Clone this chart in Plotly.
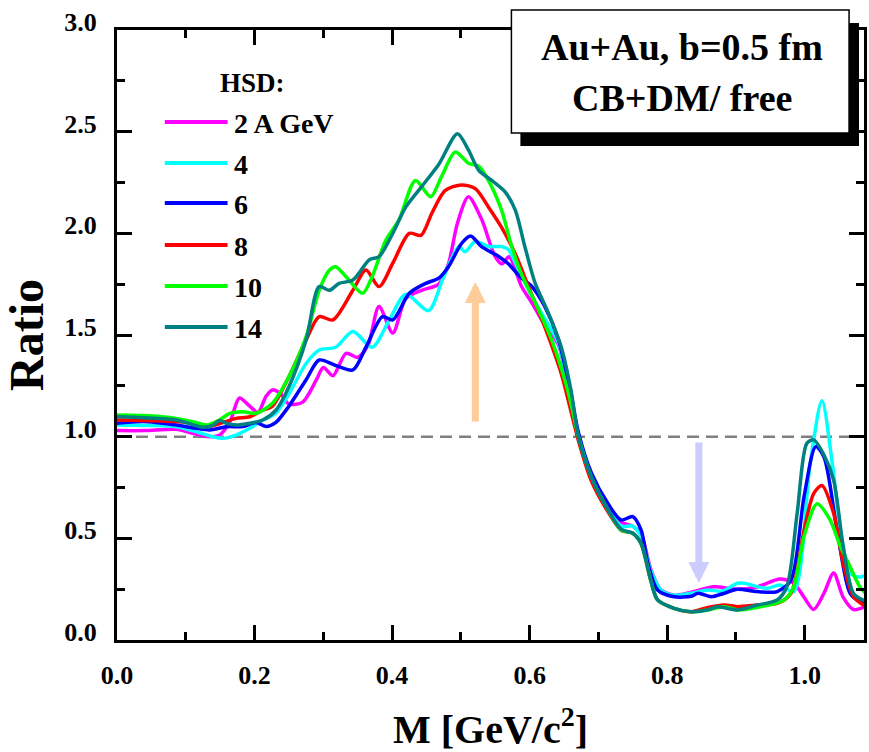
import plotly.graph_objects as go

# ---------------- data ----------------
series_names = ["2 A GeV", "4", "6", "8", "10", "14"]
series_colors = ["#FF00FF", "#00FFFF", "#0000FF", "#FF0000", "#00FF00", "#008080"]

m_2 = [0.000,0.040,0.086,0.110,0.135,0.150,0.165,0.178,0.193,0.205,0.217,0.226,0.238,0.250,0.270,0.290,0.300,0.314,0.333,0.350,0.365,0.381,0.401,0.420,0.443,0.468,0.482,0.495,0.511,0.530,0.550,0.560,0.570,0.588,0.603,0.620,0.642,0.656,0.671,0.690,0.714,0.733,0.750,0.762,0.776,0.790,0.810,0.835,0.868,0.900,0.930,0.964,0.984,0.999,1.013,1.028,1.042,1.056,1.071,1.089]
r_2 = [1.03,1.03,1.036,1.017,1.00,1.01,1.08,1.19,1.15,1.12,1.20,1.23,1.21,1.16,1.17,1.28,1.34,1.30,1.41,1.39,1.45,1.64,1.51,1.68,1.72,1.75,1.85,2.05,2.18,2.07,1.885,1.85,1.885,1.74,1.66,1.56,1.45,1.23,1.00,0.80,0.66,0.58,0.56,0.52,0.35,0.25,0.22,0.235,0.262,0.25,0.26,0.30,0.28,0.21,0.15,0.23,0.33,0.21,0.15,0.165]

m_4 = [0.000,0.040,0.086,0.115,0.135,0.154,0.173,0.193,0.212,0.231,0.250,0.275,0.294,0.318,0.343,0.371,0.396,0.420,0.453,0.475,0.497,0.506,0.521,0.540,0.559,0.569,0.584,0.600,0.622,0.642,0.656,0.671,0.690,0.714,0.733,0.750,0.762,0.776,0.791,0.810,0.835,0.859,0.880,0.902,0.912,0.945,0.964,0.984,1.008,1.025,1.040,1.052,1.066,1.080,1.089]
r_4 = [1.057,1.055,1.049,1.025,1.003,0.992,1.008,1.041,1.082,1.115,1.21,1.36,1.426,1.44,1.517,1.44,1.574,1.70,1.62,1.787,1.935,1.91,1.96,1.935,1.935,1.92,1.82,1.71,1.58,1.46,1.24,1.00,0.80,0.65,0.56,0.56,0.51,0.344,0.246,0.22,0.23,0.246,0.24,0.279,0.279,0.254,0.27,0.238,0.87,1.177,0.87,0.54,0.328,0.31,0.32]

m_6 = [0.000,0.038,0.086,0.115,0.135,0.159,0.183,0.202,0.217,0.231,0.250,0.275,0.294,0.318,0.343,0.362,0.386,0.401,0.425,0.449,0.468,0.482,0.501,0.514,0.530,0.555,0.569,0.588,0.603,0.622,0.642,0.660,0.671,0.690,0.714,0.733,0.750,0.762,0.772,0.786,0.810,0.835,0.845,0.864,0.883,0.902,0.931,0.960,0.980,0.999,1.016,1.028,1.047,1.066,1.080,1.089]
r_6 = [1.066,1.074,1.057,1.041,1.033,1.049,1.05,1.07,1.05,1.07,1.15,1.28,1.377,1.35,1.328,1.44,1.59,1.574,1.705,1.754,1.78,1.836,1.95,1.987,1.935,1.886,1.85,1.78,1.74,1.64,1.476,1.21,1.02,0.82,0.67,0.59,0.607,0.541,0.377,0.246,0.213,0.215,0.23,0.213,0.23,0.25,0.238,0.238,0.295,0.705,0.951,0.90,0.54,0.229,0.189,0.18]

m_8 = [0.000,0.038,0.086,0.115,0.135,0.154,0.173,0.193,0.212,0.226,0.250,0.275,0.294,0.314,0.343,0.362,0.381,0.401,0.425,0.442,0.458,0.477,0.501,0.521,0.540,0.559,0.579,0.598,0.622,0.646,0.671,0.690,0.714,0.733,0.750,0.762,0.776,0.786,0.810,0.835,0.859,0.883,0.902,0.931,0.960,0.980,0.999,1.013,1.025,1.042,1.056,1.071,1.089]
r_8 = [1.082,1.08,1.074,1.066,1.052,1.069,1.09,1.098,1.13,1.15,1.295,1.476,1.59,1.574,1.72,1.82,1.738,1.853,2.0,1.99,2.10,2.21,2.238,2.22,2.13,2.03,1.90,1.74,1.54,1.31,0.98,0.78,0.63,0.54,0.525,0.475,0.295,0.197,0.156,0.139,0.16,0.172,0.164,0.172,0.18,0.23,0.54,0.72,0.76,0.623,0.377,0.213,0.164]

m_10 = [0.000,0.038,0.086,0.110,0.130,0.149,0.164,0.183,0.202,0.226,0.250,0.275,0.294,0.309,0.318,0.333,0.357,0.371,0.391,0.410,0.434,0.456,0.472,0.492,0.511,0.526,0.540,0.559,0.574,0.588,0.608,0.632,0.656,0.671,0.690,0.714,0.733,0.750,0.762,0.776,0.786,0.810,0.835,0.859,0.883,0.902,0.930,0.970,0.984,0.999,1.018,1.037,1.052,1.066,1.080,1.089]
r_10 = [1.107,1.104,1.09,1.074,1.057,1.082,1.115,1.123,1.115,1.164,1.295,1.492,1.72,1.82,1.836,1.787,1.705,1.787,1.967,2.066,2.26,2.18,2.28,2.40,2.345,2.33,2.26,2.115,1.935,1.80,1.66,1.476,1.22,1.0,0.80,0.64,0.54,0.525,0.475,0.295,0.197,0.156,0.139,0.148,0.164,0.148,0.16,0.197,0.262,0.51,0.67,0.59,0.459,0.36,0.262,0.229]

m_14 = [0.000,0.038,0.086,0.125,0.140,0.149,0.159,0.173,0.193,0.212,0.231,0.250,0.275,0.294,0.309,0.323,0.343,0.367,0.381,0.401,0.420,0.443,0.468,0.495,0.511,0.526,0.545,0.564,0.579,0.593,0.608,0.627,0.646,0.660,0.671,0.690,0.714,0.733,0.750,0.762,0.776,0.786,0.810,0.835,0.859,0.873,0.902,0.931,0.960,0.974,0.989,1.003,1.013,1.028,1.042,1.056,1.071,1.089]
r_14 = [1.098,1.093,1.082,1.046,1.057,1.08,1.066,1.057,1.066,1.082,1.13,1.246,1.476,1.738,1.72,1.754,1.77,1.87,1.885,2.0,2.13,2.23,2.34,2.49,2.41,2.31,2.26,2.205,2.115,1.935,1.755,1.61,1.44,1.23,1.0,0.80,0.64,0.545,0.525,0.475,0.295,0.197,0.156,0.139,0.148,0.164,0.148,0.172,0.197,0.262,0.623,0.967,0.984,0.91,0.787,0.459,0.229,0.19]

x_values = [m_2, m_4, m_6, m_8, m_10, m_14]
y_values = [r_2, r_4, r_6, r_8, r_10, r_14]

reference_ratio = 1.0
# arrows: x, tail y, tip y, colour
arrow_x = [0.521, 0.846]
arrow_tail = [1.067, 0.979]
arrow_tip = [1.761, 0.280]
arrow_colors = ["#FFCC99", "#CCCCFF"]

x_tick_labels = ["0.0", "0.2", "0.4", "0.6", "0.8", "1.0"]
y_tick_labels = ["0.0", "0.5", "1.0", "1.5", "2.0", "2.5", "3.0"]

# ---------------- figure ----------------
W, H = 869, 752
ML, MR, MT, MB = 117, 2, 30, 112
PW, PH = W - ML - MR, H - MT - MB

def px(xp):
    return (xp - ML) / PW

def py(yp):
    return (H - MB - yp) / PH

FONT = "Liberation Serif"

fig = go.Figure()
for name, col, xs, ys in zip(series_names, series_colors, x_values, y_values):
    fig.add_trace(go.Scatter(
        x=xs, y=ys, mode="lines", name=name, showlegend=False,
        line=dict(color=col, width=3.5, shape="spline", smoothing=0.8),
    ))

axis_common = dict(
    showline=True, linewidth=3, linecolor="black", mirror="ticks",
    ticks="inside", ticklen=15, tickwidth=2.5, tickcolor="black",
    showgrid=False, zeroline=False,
    tickfont=dict(family=FONT, size=26, color="black", weight="bold"),
)

fig.update_xaxes(
    range=[0, PW / 690.5], tickvals=[float(t) for t in x_tick_labels], ticktext=x_tick_labels,
    minor=dict(dtick=0.1, tick0=0, ticks="inside", ticklen=8, tickwidth=2.5, tickcolor="black", showgrid=False),
    title=dict(text="M [GeV/c<sup>2</sup>]", font=dict(family=FONT, size=40, color="black", weight="bold"), standoff=26),
    ticklabelstandoff=10,
    **axis_common,
)
fig.update_yaxes(
    range=[0, 3.0], tickvals=[float(t) for t in y_tick_labels], ticktext=y_tick_labels,
    minor=dict(dtick=0.25, tick0=0, ticks="inside", ticklen=8, tickwidth=2.5, tickcolor="black", showgrid=False),
    title=dict(text="Ratio", font=dict(family=FONT, size=48, color="black", weight="bold"), standoff=18),
    ticklabelstandoff=12, ticklabelshift=-8,
    **axis_common,
)

shapes = []
# dashed reference line at ratio 1
shapes.append(dict(type="line", xref="paper", yref="y", x0=0, x1=1, y0=reference_ratio, y1=reference_ratio,
                   line=dict(color="#808080", width=2.5, dash="12px,7px"), layer="below"))
# text box with shadow
shapes.append(dict(type="rect", xref="paper", yref="paper", x0=px(522), x1=px(862), y0=py(146), y1=py(23),
                   fillcolor="black", line=dict(width=0)))
shapes.append(dict(type="rect", xref="paper", yref="paper", x0=px(513), x1=px(852), y0=py(133), y1=py(10),
                   fillcolor="white", line=dict(color="black", width=1.5)))

annotations = []
annotations.append(dict(xref="paper", yref="paper", x=px(684), y=py(47), text="Au+Au, b=0.5 fm",
                        showarrow=False, xanchor="center", yanchor="middle",
                        font=dict(family=FONT, size=38, color="black", weight="bold")))
annotations.append(dict(xref="paper", yref="paper", x=px(684), y=py(98), text="CB+DM/ free",
                        showarrow=False, xanchor="center", yanchor="middle",
                        font=dict(family=FONT, size=38, color="black", weight="bold")))

# manual legend
legend_rows = [122, 163, 203, 245, 286, 327]
annotations.append(dict(xref="paper", yref="paper", x=px(218), y=py(83), text="HSD:", showarrow=False,
                        xanchor="left", yanchor="middle",
                        font=dict(family=FONT, size=27, color="black", weight="bold")))
for name, col, yr in zip(series_names, series_colors, legend_rows):
    shapes.append(dict(type="line", xref="paper", yref="paper", x0=px(165), x1=px(228), y0=py(yr), y1=py(yr),
                       line=dict(color=col, width=4)))
    annotations.append(dict(xref="paper", yref="paper", x=px(232), y=py(yr + 1), text=name, showarrow=False,
                            xanchor="left", yanchor="middle",
                            font=dict(family=FONT, size=28, color="black", weight="bold")))

# arrows
for ax_, t0, t1, col in zip(arrow_x, arrow_tail, arrow_tip, arrow_colors):
    annotations.append(dict(x=ax_, y=t1, ax=ax_, ay=t0, xref="x", yref="y", axref="x", ayref="y",
                            text="", showarrow=True, arrowhead=2, arrowsize=0.6, arrowwidth=7,
                            arrowcolor=col))

fig.update_layout(
    width=W, height=H,
    margin=dict(l=ML, r=MR, t=MT, b=MB, pad=0),
    paper_bgcolor="white", plot_bgcolor="white",
    shapes=shapes, annotations=annotations,
    showlegend=False,
)

fig.write_html("out.html")
